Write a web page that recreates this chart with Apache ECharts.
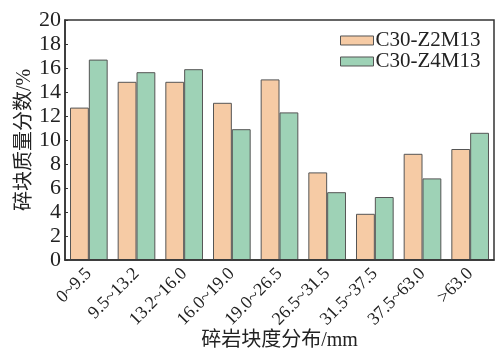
<!DOCTYPE html>
<html><head><meta charset="utf-8">
<script src="https://cdn.jsdelivr.net/npm/echarts@6/dist/echarts.min.js"></script>
<style>html,body{margin:0;padding:0;background:#fff}#c{width:504px;height:351px}</style>
</head><body><div id="c"></div>
<script>
const categories = ['0~9.5','9.5~13.2','13.2~16.0','16.0~19.0','19.0~26.5','26.5~31.5','31.5~37.5','37.5~63.0','>63.0'];
const z2m13 = [12.7, 14.85, 14.85, 13.1, 15.05, 7.3, 3.85, 8.85, 9.25];
const z4m13 = [16.7, 15.65, 15.9, 10.9, 12.3, 5.65, 5.25, 6.8, 10.6];
const seriesNames = ['C30-Z2M13','C30-Z4M13'];
const yTicks = {min: 0, max: 20, interval: 2};

const serif = '"Liberation Serif","Noto Sans CJK SC",serif';
const chart = echarts.init(document.getElementById('c'), null, {renderer:'canvas'});
chart.setOption({
  animation: false,
  grid: {left: 65, right: 10, top: 20, bottom: 91, containLabel: false, outerBoundsMode: 'none'},
  legend: {
    left: 335, top: 25, orient: 'vertical', itemWidth: 33, itemHeight: 9, itemGap: 0,
    icon: 'rect',
    textStyle: {fontFamily: serif, fontSize: 21, lineHeight: 18, color: '#222', padding: [0,0,0,-3]},
    itemStyle: {borderColor: '#555', borderWidth: 1},
    data: seriesNames
  },
  xAxis: {
    type: 'category', data: categories,
    axisLine: {lineStyle: {color: '#333', width: 1.5}},
    axisTick: {inside: true, alignWithLabel: true, length: 3, lineStyle: {color: '#333'}},
    axisLabel: {rotate: 45, fontFamily: serif, fontSize: 18, color: '#222', margin: 11, interval: 0},
    name: '碎岩块度分布/mm', nameLocation: 'middle', nameGap: 71, nameMoveOverlap: false,
    nameTextStyle: {fontFamily: serif, fontSize: 20, color: '#222'}
  },
  yAxis: {
    type: 'value', min: yTicks.min, max: yTicks.max, interval: yTicks.interval,
    splitLine: {show: false},
    axisLine: {show: true, lineStyle: {color: '#333', width: 1.5}},
    axisTick: {show: true, inside: true, length: 3, lineStyle: {color: '#333'}},
    axisLabel: {fontFamily: serif, fontSize: 22, color: '#222', margin: 4},
    name: '碎块质量分数/%', nameLocation: 'middle', nameGap: 30, nameMoveOverlap: false,
    nameTextStyle: {fontFamily: serif, fontSize: 20, color: '#222'}
  },
  graphic: [{
    type: 'rect', shape: {x: 65, y: 20, width: 429, height: 240},
    style: {fill: 'none', stroke: '#333', lineWidth: 1.5}, silent: true, z: 10
  }],
  series: [
    {name: seriesNames[0], type: 'bar', data: z2m13, barGap: '0%', barCategoryGap: '21%',
     itemStyle: {color: '#F6CBA5', borderColor: '#555', borderWidth: 1}},
    {name: seriesNames[1], type: 'bar', data: z4m13, barGap: '0%', barCategoryGap: '21%',
     itemStyle: {color: '#9ED2B6', borderColor: '#555', borderWidth: 1}}
  ]
});
</script></body></html>
